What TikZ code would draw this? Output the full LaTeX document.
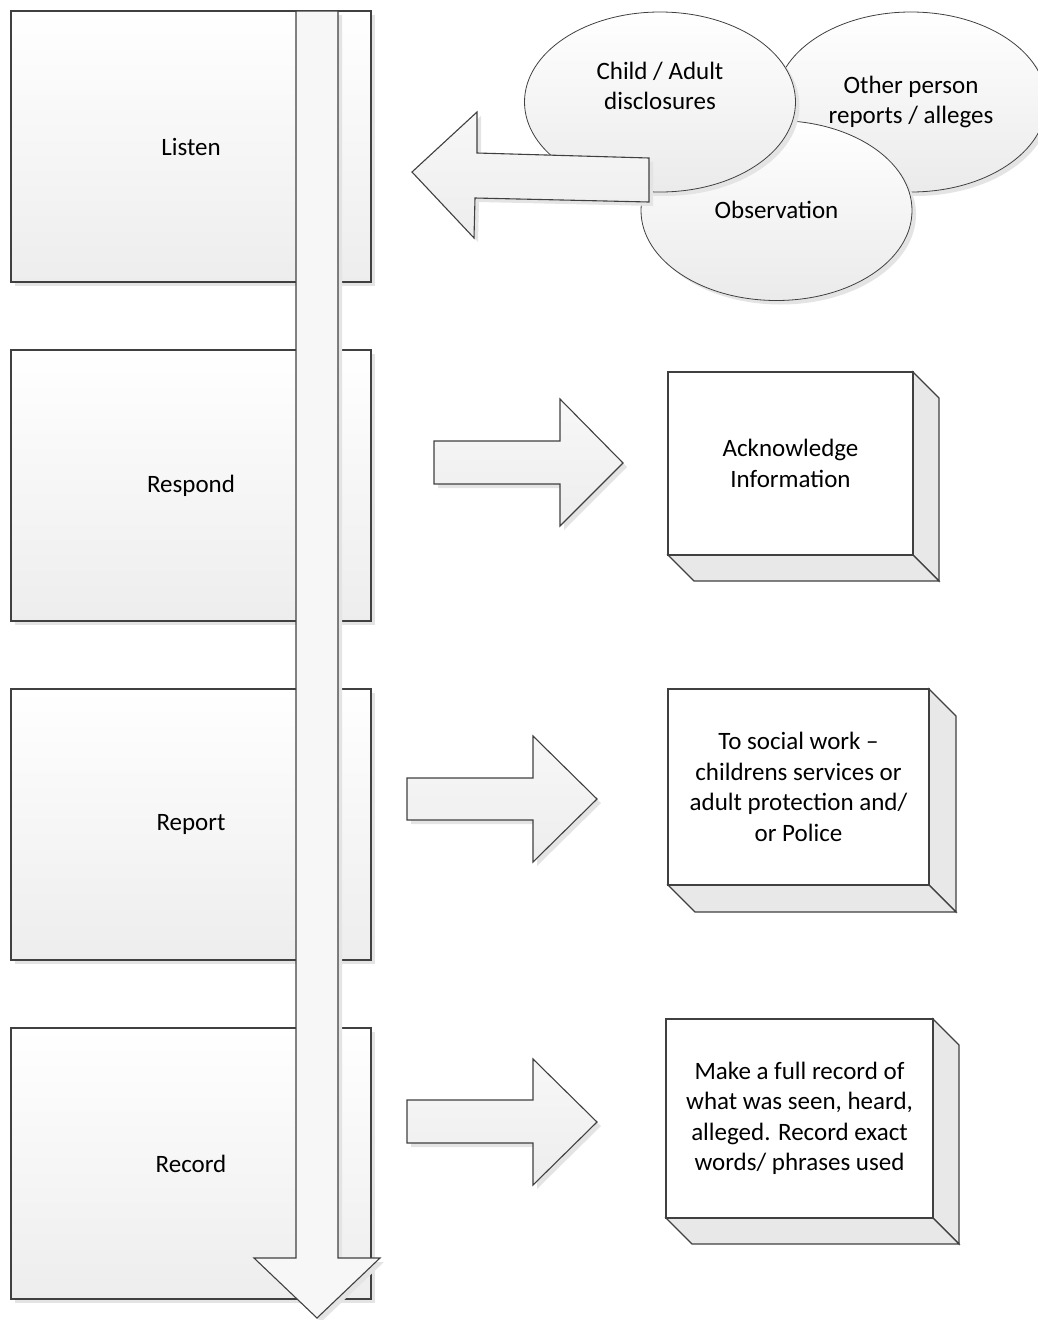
\documentclass[tikz,border=0pt]{standalone}
\usepackage{fontspec}
\setmainfont{Carlito}
\usetikzlibrary{shapes.geometric,shadows}
\definecolor{edge}{HTML}{404040}
\definecolor{shadecol}{HTML}{E4E4E4}
\definecolor{sidecol}{HTML}{E8E8E8}
\tikzset{
  myshadow/.style={general shadow={fill=shadecol, draw=none, shadow xshift=4pt, shadow yshift=-4pt}},
  stage/.style={myshadow, draw=edge, line width=1.1pt, top color=white, bottom color=black!7,
    minimum width=360pt, minimum height=271pt, inner sep=0pt, font=\fontsize{25}{30.5}\selectfont},
  bubble/.style={myshadow, ellipse, draw=edge, line width=0.8pt, top color=white, bottom color=black!8,
    minimum width=271pt, minimum height=180pt, inner sep=0pt},
  lbl/.style={align=center, inner sep=0pt, font=\fontsize{25}{30.5}\selectfont},
  blockarrow/.style={myshadow, draw=edge, line width=1.1pt, top color=white!97!black, bottom color=black!7, line join=miter},
  downarrow/.style={myshadow, draw=edge, line width=1.1pt, fill=black!3, line join=miter},
  side/.style={draw=edge, line width=1.1pt, fill=sidecol, line join=miter},
  front/.style={draw=edge, line width=1.1pt, fill=white, inner sep=0pt, align=center, font=\fontsize{25}{30.5}\selectfont},
}
\begin{document}
\begin{tikzpicture}[x=1pt,y=-1pt]
\useasboundingbox (0,0) rectangle (1038,1320);

% left stage boxes
\node[stage] (listen)  at (191,146.5)  {Listen};
\node[stage] (respond) at (191,485.5)  {Respond};
\node[stage] (report)  at (191,824.5)  {Report};
\node[stage] (record)  at (191,1163.5) {Record};

% long downward arrow
\draw[downarrow] (296,11) -- (338,11) -- (338,1258) -- (380,1258) -- (317,1318) -- (254,1258) -- (296,1258) -- cycle;

% ellipses
\node[bubble] (other) at (911,102) {};
\node[bubble] (obs)   at (776.5,210.5) {};
\node[bubble] (child) at (660,102) {};
\node[lbl] (otherT) at (911,102) {Other person\\reports / alleges};
\node[lbl] (obsT)   at (776.5,210) {Observation};
\node[lbl] (childT) at (660,86) {Child / Adult\\disclosures};

% arrow pointing left to Listen
\draw[blockarrow] (412,172) -- (477,112) -- (477,153) -- (649,158) -- (649,202) -- (475,198) -- (474,238) -- cycle;

% right arrows
\draw[blockarrow] (434,441) -- (560,441) -- (560,399) -- (623,463) -- (560,526) -- (560,484) -- (434,484) -- cycle;
\draw[blockarrow] (407,778) -- (533,778) -- (533,736) -- (597,799) -- (533,862) -- (533,820) -- (407,820) -- cycle;
\draw[blockarrow] (407,1100) -- (533,1100) -- (533,1059) -- (597,1122) -- (533,1185) -- (533,1143) -- (407,1143) -- cycle;

% 3D box: Acknowledge
\draw[side] (913,372) -- (939,398) -- (939,581) -- (913,555) -- cycle;
\draw[side] (668,555) -- (694,581) -- (939,581) -- (913,555) -- cycle;
\node[front, minimum width=245pt, minimum height=183pt] (ack) at (790.5,463.5) {Acknowledge\\Information};

% 3D box: social work
\draw[side] (929,689) -- (956,716) -- (956,912) -- (929,885) -- cycle;
\draw[side] (668,885) -- (695,912) -- (956,912) -- (929,885) -- cycle;
\node[front, minimum width=261pt, minimum height=196pt] (social) at (798.5,787) {To social work --\\childrens services or\\adult protection and/\\or Police};

% 3D box: record
\draw[side] (933,1019) -- (959,1045) -- (959,1244) -- (933,1218) -- cycle;
\draw[side] (666,1218) -- (692,1244) -- (959,1244) -- (933,1218) -- cycle;
\node[front, minimum width=267pt, minimum height=199pt] (full) at (799.5,1118.5) {Make a full record of\\what was seen, heard,\\alleged. Record exact\\words/ phrases used};
\end{tikzpicture}
\end{document}
